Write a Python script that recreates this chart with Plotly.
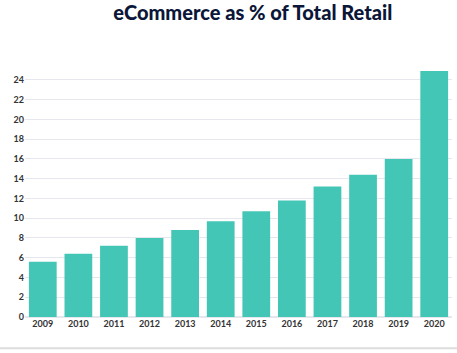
import plotly.graph_objects as go

years = ["2009", "2010", "2011", "2012", "2013", "2014", "2015", "2016", "2017", "2018", "2019", "2020"]
share = [5.6, 6.4, 7.2, 8.0, 8.8, 9.7, 10.7, 11.8, 13.2, 14.4, 16.0, 24.9]
yticks = list(range(0, 25, 2))

fig = go.Figure(go.Bar(x=years, y=share, marker_color="#44c6b6", marker_line_width=0))

fig.update_layout(
    width=457, height=353,
    margin=dict(l=25, r=5, t=68, b=36),
    paper_bgcolor="white", plot_bgcolor="white",
    bargap=0.22,
    showlegend=False,
    title=dict(text="eCommerce as % of Total Retail", xref="container", x=0.553, xanchor="center",
               y=0.962, yanchor="middle",
               font=dict(family="Lato, Open Sans, sans-serif", size=20, color="#0b1638", weight=900)),
    xaxis=dict(type="category", showgrid=False, showline=False, ticks="",
               tickfont=dict(family="Lato, sans-serif", size=9, color="#333333", weight="bold")),
    yaxis=dict(range=[0, 25.2], tickvals=yticks, showgrid=True, gridcolor="#e6e6ee", gridwidth=1,
               zeroline=True, zerolinecolor="#e6e6ee", showline=False, ticks="",
               tickfont=dict(family="Lato, sans-serif", size=9, color="#333333", weight="bold")),
    shapes=[dict(type="line", xref="paper", yref="paper", x0=-0.06, x1=1.02, y0=-0.125, y1=-0.125,
                 line=dict(color="#dddddd", width=2))],
)

fig.write_html("out.html")
